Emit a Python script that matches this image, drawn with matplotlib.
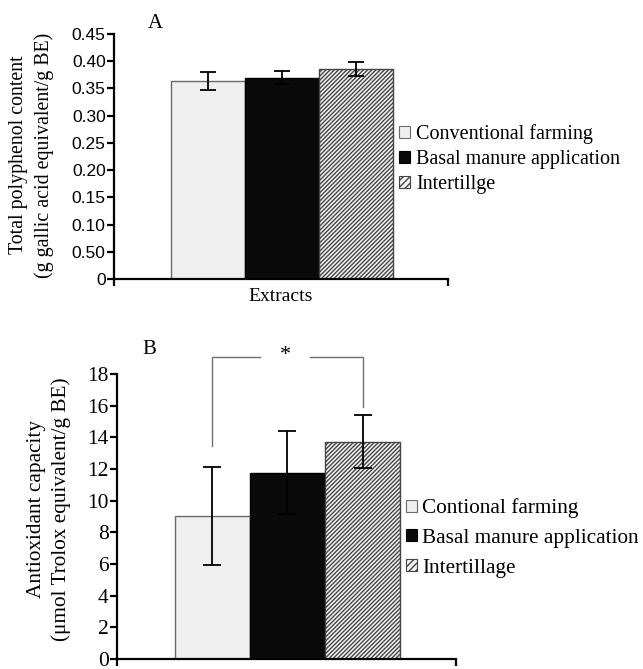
import matplotlib
matplotlib.use("Agg")
import matplotlib.pyplot as plt
from matplotlib.patches import Patch

# data
groups = [0, 1, 2]
tpc_labels = ["Conventional farming", "Basal manure application", "Intertillge"]
tpc_mean = [0.364, 0.370, 0.385]
tpc_err = [0.017, 0.012, 0.013]
tpc_ticks = [0, 0.05, 0.10, 0.15, 0.20, 0.25, 0.30, 0.35, 0.40, 0.45]
tpc_ticklabels = ["0", "0.50", "0.10", "0.15", "0.20", "0.25", "0.30", "0.35", "0.40", "0.45"]

aox_labels = ["Contional farming", "Basal manure application", "Intertillage"]
aox_mean = [9.05, 11.77, 13.73]
aox_err = [3.1, 2.6, 1.67]
aox_ticks = [0, 2, 4, 6, 8, 10, 12, 14, 16, 18]

SERIF = "Liberation Serif"
SANS = "Liberation Sans"
plt.rcParams["hatch.linewidth"] = 1.0

faces = ["#efefef", "#0a0a0a", "#f4f4f4"]
edges = ["#6a6a6a", "#000000", "#444444"]
hatches = [None, None, "////////"]
XLIM = (-1.27, 3.245)

fig = plt.figure(figsize=(6.43, 6.69), dpi=100)


def draw_panel(ax, means, errs, capsize, elw):
    for g, m, fc, ec, h in zip(groups, means, faces, edges, hatches):
        ax.bar(g, m, width=1.0, color=fc, edgecolor=ec, hatch=h, linewidth=1.0, zorder=2)
    ax.errorbar(groups, means, yerr=errs, fmt="none", ecolor="black",
                elinewidth=elw, capsize=capsize, capthick=elw, zorder=3)
    ax.set_xlim(*XLIM)
    for s in ["top", "right"]:
        ax.spines[s].set_visible(False)
    for s in ["left", "bottom"]:
        ax.spines[s].set_linewidth(1.6)
    ax.set_xticks(list(XLIM))
    ax.set_xticklabels([])
    ax.tick_params(axis="x", direction="out", length=5, width=1.6)
    ax.tick_params(axis="y", direction="out", length=5, width=1.6, pad=1)


def legend_handles():
    return [Patch(facecolor=fc, edgecolor=ec, hatch=("/////" if h else None), linewidth=0.8)
            for fc, ec, h in zip(faces, edges, hatches)]


# ---- panel A
axA = fig.add_axes([114 / 643, 1 - 279 / 669, 334 / 643, 245 / 669])
draw_panel(axA, tpc_mean, tpc_err, 5.5, 1.3)
axA.set_ylim(0, 0.45)
axA.set_yticks(tpc_ticks)
axA.set_yticklabels(tpc_ticklabels, fontfamily=SANS, fontsize=12.5)
axA.legend(legend_handles(), tpc_labels, loc="center left", frameon=False,
           bbox_to_anchor=(399 / 643, 1 - 159 / 669), bbox_transform=fig.transFigure,
           prop={"family": SERIF, "size": 14.5}, handlelength=0.55, handleheight=0.55,
           handletextpad=0.3, labelspacing=0.29, borderpad=0, borderaxespad=0)
fig.text(155 / 643, 1 - 24 / 669, "A", ha="center", va="center", fontfamily=SERIF, fontsize=15)
fig.text(281 / 643, 1 - 297 / 669, "Extracts", ha="center", va="center", fontfamily=SERIF, fontsize=14)
fig.text(31.5 / 643, 1 - 155 / 669, "Total polyphenol content\n(g gallic acid equivalent/g BE)",
         rotation=90, ha="center", va="center", multialignment="center",
         fontfamily=SERIF, fontsize=14.3, linespacing=1.4)

# ---- panel B
axB = fig.add_axes([117 / 643, 1 - 659 / 669, 339 / 643, 285 / 669])
draw_panel(axB, aox_mean, aox_err, 6.5, 1.3)
axB.set_ylim(0, 18)
axB.set_yticks(aox_ticks)
axB.set_yticklabels([str(t) for t in aox_ticks], fontfamily=SERIF, fontsize=15.5)
axB.legend(legend_handles(), aox_labels, loc="center left", frameon=False,
           bbox_to_anchor=(406 / 643, 1 - 538 / 669), bbox_transform=fig.transFigure,
           prop={"family": SERIF, "size": 15.3}, handlelength=0.5, handleheight=0.5,
           handletextpad=0.25, labelspacing=0.5, borderpad=0, borderaxespad=0)
fig.text(149 / 643, 1 - 350 / 669, "B", ha="center", va="center", fontfamily=SERIF, fontsize=15)
fig.text(49 / 643, 1 - 509 / 669, "Antioxidant capacity\n(\u03bcmol Trolox equivalent/g BE)",
         rotation=90, ha="center", va="center", multialignment="center",
         fontfamily=SERIF, fontsize=15.3, linespacing=1.3)

# significance bracket between conventional and intertillage
br_y = 19.1
gray = "#707070"
axB.plot([0, 0, 0.64], [13.45, br_y, br_y], color=gray, lw=1.0, clip_on=False)
axB.plot([1.30, 2, 2], [br_y, br_y, 15.9], color=gray, lw=1.0, clip_on=False)
axB.text(0.97, br_y + 0.1, "*", ha="center", va="center", fontfamily=SERIF, fontsize=16, clip_on=False)

fig.savefig("out.png", dpi=100)
